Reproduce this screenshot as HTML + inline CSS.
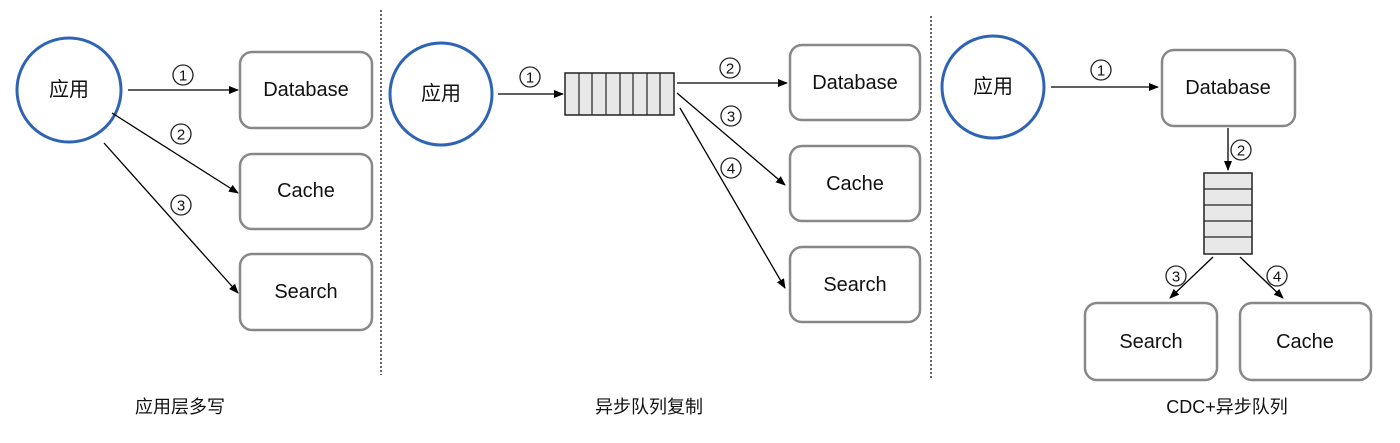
<!DOCTYPE html>
<html><head><meta charset="utf-8"><style>body{margin:0;background:#fff}svg{display:block}</style></head><body>
<svg width="1400" height="443" viewBox="0 0 1400 443" xmlns="http://www.w3.org/2000/svg" font-family="Liberation Sans, Noto Sans CJK SC, sans-serif">
<defs><marker id="a" markerWidth="10" markerHeight="8" refX="9" refY="4" orient="auto" markerUnits="userSpaceOnUse"><path d="M0,0 L10,4 L0,8 z" fill="#000"/></marker></defs>
<g fill="none" stroke="#2f64b4" stroke-width="3">
<circle cx="69" cy="90" r="52"/><circle cx="441" cy="94" r="51"/><circle cx="993" cy="87" r="51"/></g>
<g fill="#fff" stroke="#888" stroke-width="2.5">
<rect x="240" y="52" width="132" height="76" rx="12"/><rect x="240" y="154" width="132" height="75" rx="12"/><rect x="240" y="254" width="132" height="76" rx="12"/>
<rect x="790" y="45" width="130" height="75" rx="12"/><rect x="790" y="146" width="130" height="75" rx="12"/><rect x="790" y="247" width="130" height="75" rx="12"/>
<rect x="1162" y="50" width="133" height="76" rx="12"/><rect x="1085" y="303" width="132" height="77" rx="12"/><rect x="1240" y="303" width="131" height="77" rx="12"/>
</g>
<g stroke="#333" stroke-width="1.5" stroke-dasharray="2,2"><line x1="381" y1="10" x2="381" y2="375"/><line x1="931" y1="16" x2="931" y2="380"/></g>
<g fill="#e8e8e8" stroke="#222" stroke-width="1.5">
<rect x="565" y="73" width="109" height="42"/><rect x="1204" y="173" width="48" height="81"/></g>
<g stroke="#222" stroke-width="1.2">
<line x1="579" y1="73" x2="579" y2="115"/><line x1="592" y1="73" x2="592" y2="115"/><line x1="606" y1="73" x2="606" y2="115"/><line x1="620" y1="73" x2="620" y2="115"/><line x1="633" y1="73" x2="633" y2="115"/><line x1="647" y1="73" x2="647" y2="115"/><line x1="660" y1="73" x2="660" y2="115"/>
<line x1="1204" y1="189" x2="1252" y2="189"/><line x1="1204" y1="205" x2="1252" y2="205"/><line x1="1204" y1="221" x2="1252" y2="221"/><line x1="1204" y1="237" x2="1252" y2="237"/></g>
<g stroke="#000" stroke-width="1.3" marker-end="url(#a)">
<line x1="128" y1="90" x2="238" y2="90"/><line x1="112" y1="113" x2="238" y2="193"/><line x1="104" y1="143" x2="238" y2="293"/>
<line x1="498" y1="94" x2="563" y2="94"/><line x1="677" y1="83" x2="787" y2="83"/><line x1="677" y1="93" x2="785" y2="185"/><line x1="680" y1="108" x2="785" y2="288"/>
<line x1="1051" y1="87" x2="1158" y2="87"/><line x1="1228" y1="128" x2="1228" y2="170"/><line x1="1213" y1="257" x2="1170" y2="298"/><line x1="1240" y1="257" x2="1283" y2="298"/>
</g>
<g fill="none" stroke="#222" stroke-width="1.3">
<circle cx="183" cy="75" r="10"/><circle cx="181" cy="134" r="10"/><circle cx="181" cy="205" r="10"/>
<circle cx="530" cy="77" r="10"/><circle cx="730" cy="68" r="10"/><circle cx="731" cy="116" r="10"/><circle cx="731" cy="168" r="10"/>
<circle cx="1101" cy="70" r="10"/><circle cx="1241" cy="150" r="10"/><circle cx="1176" cy="276" r="10"/><circle cx="1277" cy="276" r="10"/>
</g>
<g font-size="20" fill="#111" text-anchor="middle" dominant-baseline="central">
<text x="69" y="90">应用</text><text x="441" y="94">应用</text><text x="993" y="87">应用</text>
<text x="306" y="90">Database</text><text x="306" y="191">Cache</text><text x="306" y="292">Search</text>
<text x="855" y="83">Database</text><text x="855" y="184">Cache</text><text x="855" y="285">Search</text>
<text x="1228" y="88">Database</text><text x="1151" y="342">Search</text><text x="1305" y="342">Cache</text>
<g font-size="15"><text x="183" y="76">1</text><text x="181" y="135">2</text><text x="181" y="206">3</text>
<text x="530" y="78">1</text><text x="730" y="69">2</text><text x="731" y="117">3</text><text x="731" y="169">4</text>
<text x="1101" y="71">1</text><text x="1241" y="151">2</text><text x="1176" y="277">3</text><text x="1277" y="277">4</text></g>
<g font-size="18"><text x="180" y="407">应用层多写</text><text x="649" y="407">异步队列复制</text><text x="1227" y="407">CDC+异步队列</text></g>
</g>
</svg>
</body></html>
